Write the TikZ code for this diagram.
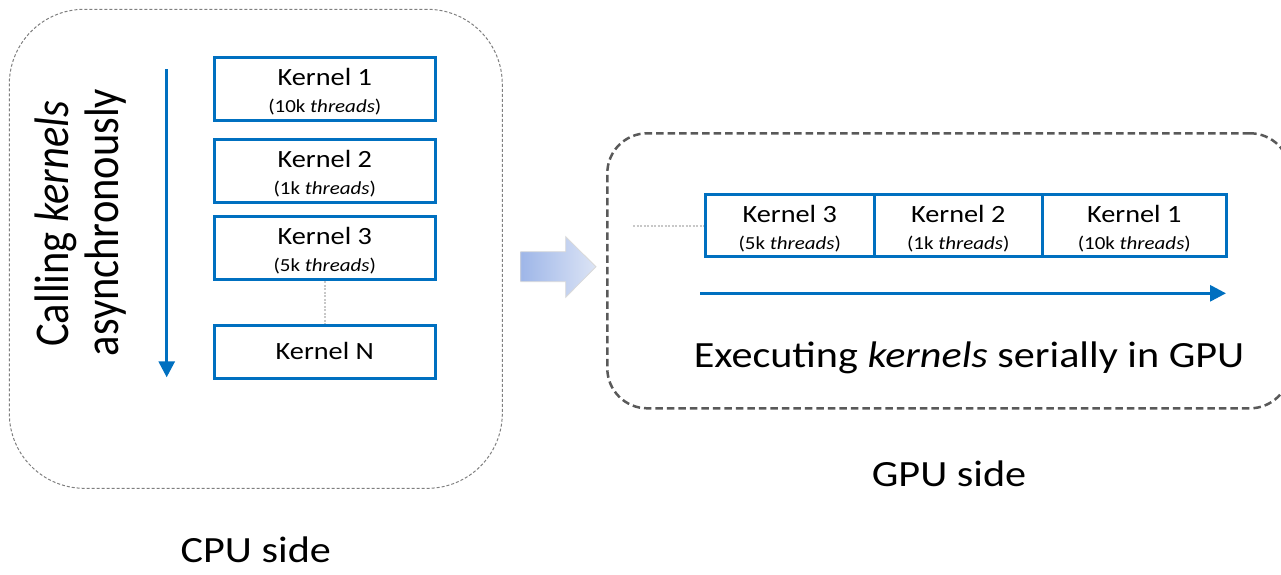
\documentclass[tikz,border=0pt]{standalone}
\usepackage{fontspec}
% Slightly widened Carlito for horizontal text, narrowed one for the rotated caption
\setmainfont{Carlito}[FakeStretch=1.14]
\newfontfamily\rotfont{Carlito}[FakeStretch=0.877]
\usetikzlibrary{arrows.meta,calc}
\definecolor{kblue}{HTML}{0070C0}
\definecolor{cpuedge}{HTML}{7F7F7F}
\definecolor{gpuedge}{HTML}{595959}
\definecolor{dotgray}{HTML}{C8C8C8}
\definecolor{blockL}{HTML}{9EB6E8}
\definecolor{blockR}{HTML}{DCE4F5}
\definecolor{blockEdge}{HTML}{D9D9D9}
\begin{document}
\begin{tikzpicture}[x=1pt,y=-1pt,
  kbox/.style={draw=kblue, line width=3pt, minimum width=221pt, minimum height=63pt, inner sep=0pt},
  kname/.style={font=\fontsize{24.8}{30}\selectfont, anchor=base, inner sep=0pt},
  ksub/.style={font=\fontsize{18.4}{22}\selectfont, anchor=base, inner sep=0pt},
  bigtext/.style={font=\fontsize{37}{44}\selectfont, anchor=base, inner sep=0pt},
  rottext/.style={font=\rotfont\fontsize{48.45}{50}\selectfont, anchor=base, inner sep=0pt, rotate=90},
  flow/.style={draw=kblue, line width=3pt, -{Triangle[length=16pt,width=16pt]}},
  dotline/.style={draw=dotgray, line width=2pt, dash pattern=on 2pt off 1.5pt},
  cpuframe/.style={draw=cpuedge, line width=1pt, dash pattern=on 3pt off 2pt, rounded corners=75pt, inner sep=0pt},
  gpuframe/.style={draw=gpuedge, line width=2.5pt, dash pattern=on 7.5pt off 4pt, rounded corners=40pt, inner sep=0pt}]
\useasboundingbox (0,0) rectangle (1281,574);
\clip (0,0) rectangle (1281,574);

% CPU side frame
\node[cpuframe, minimum width=493pt, minimum height=479pt] (cpu) at (255.8,248.8) {};

% kernels launched by the host
\node[kbox] (k1) at (324.8,89.2) {};
\node[kbox] (k2) at (324.8,170.8) {};
\node[kbox] (k3) at (324.8,248) {};
\node[kbox, minimum height=53pt] (kN) at (324.8,351.8) {};

\node[kname] (k1a) at ($(k1.north)+(0,29.6)$) {Kernel 1};
\node[ksub]  (k1b) at ($(k1.north)+(0,56.3)$) {(10k \textit{threads})};
\node[kname] (k2a) at ($(k2.north)+(0,29.6)$) {Kernel 2};
\node[ksub]  (k2b) at ($(k2.north)+(0,56.3)$) {(1k \textit{threads})};
\node[kname] (k3a) at ($(k3.north)+(0,29.6)$) {Kernel 3};
\node[ksub]  (k3b) at ($(k3.north)+(0,56.3)$) {(5k \textit{threads})};
\node[kname] (kNa) at ($(kN.north)+(0,36)$) {Kernel N};

\draw[dotline] (k3.south) -- (kN.north);

% call order arrow and caption
\coordinate (callTop) at (166.7,69);
\coordinate (callEnd) at (166.7,377.3);
\draw[flow] (callTop) -- (callEnd);
\node[rottext] (call1) at (68.3,224) {Calling \textit{kernels}};
\node[rottext] (call2) at (118.3,222.5) {asynchronously};

% hand-over block arrow
\shade[left color=blockL, right color=blockR, draw=blockEdge, line width=0.8pt]
  (520.7,251.7) -- (565.7,251.7) -- (565.7,236.7) -- (596,266.7)
  -- (565.7,297.3) -- (565.7,281.7) -- (520.7,281.7) -- cycle;

% GPU side frame
\node[gpuframe, minimum width=682.7pt, minimum height=275pt] (gpu) at (948.65,270.8) {};

% kernels executed one after another
\node[kbox, minimum width=169.5pt, minimum height=62.4pt] (g3) at (789.75,225.5) {};
\node[kbox, minimum width=167.5pt, minimum height=62.4pt] (g2) at (958.25,225.5) {};
\node[kbox, minimum width=184.5pt, minimum height=62.4pt] (g1) at (1134.25,225.5) {};

\node[kname] (g3a) at ($(g3.north)+(0,29.3)$) {Kernel 3};
\node[ksub]  (g3b) at ($(g3.north)+(0,56.5)$) {(5k \textit{threads})};
\node[kname] (g2a) at ($(g2.north)+(0,29.3)$) {Kernel 2};
\node[ksub]  (g2b) at ($(g2.north)+(0,56.5)$) {(1k \textit{threads})};
\node[kname] (g1a) at ($(g1.north)+(0,29.3)$) {Kernel 1};
\node[ksub]  (g1b) at ($(g1.north)+(0,56.5)$) {(10k \textit{threads})};

\coordinate (queueTail) at (633,225.5);
\draw[dotline] (queueTail) -- (g3.west);

\coordinate (execStart) at (700,293.3);
\coordinate (execEnd) at (1226,293.3);
\draw[flow] (execStart) -- (execEnd);

\node[bigtext] (exec) at (969,367) {Executing \textit{kernels} serially in GPU};

% side captions
\node[bigtext] (gpucap) at (949,486.7) {GPU side};
\node[bigtext] (cpucap) at (255.8,562) {CPU side};
\end{tikzpicture}
\end{document}
